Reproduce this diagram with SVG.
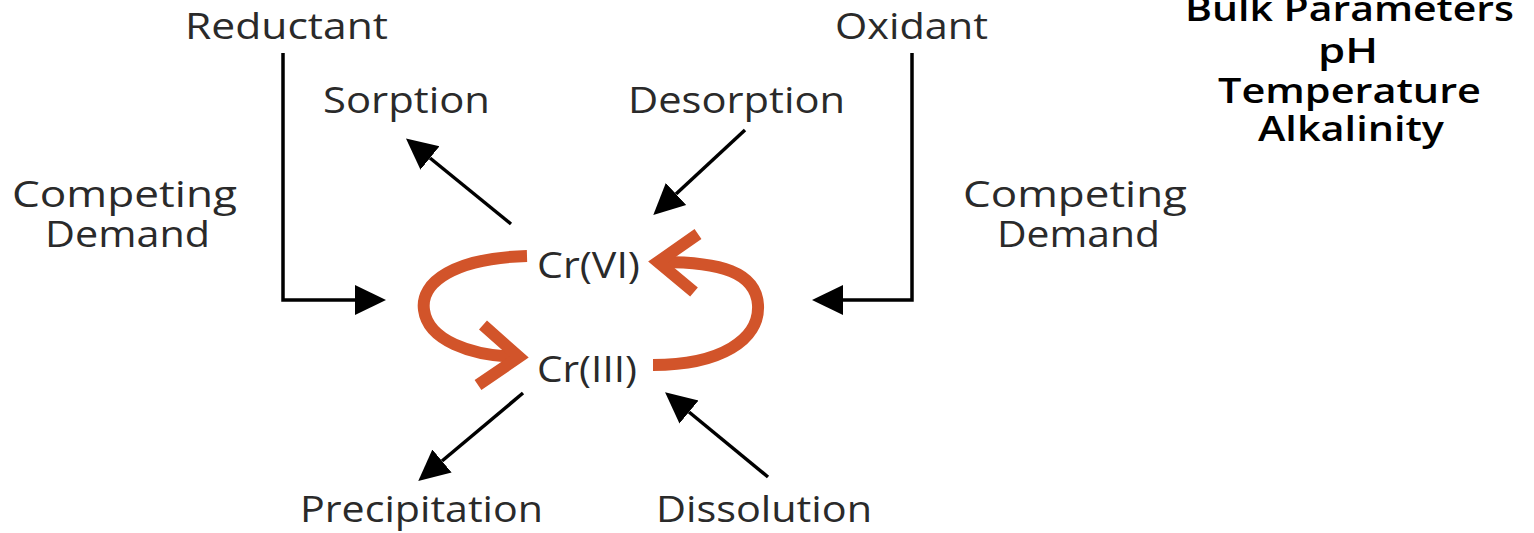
<svg xmlns="http://www.w3.org/2000/svg" width="1534" height="533" viewBox="0 0 1534 533">
<style>
.t{font-family:"Open Sans","Noto Sans",sans-serif;font-size:36px;fill:#2a2a2a;}
.b{font-family:"Open Sans","Noto Sans",sans-serif;font-size:34px;font-weight:600;fill:#000;}
.k{stroke:#000;stroke-width:3.5;fill:none;}
.o{stroke:#d2542a;stroke-width:12;fill:none;}
</style>
<defs>
<marker id="ah" markerUnits="userSpaceOnUse" markerWidth="32" markerHeight="32" viewBox="0 0 32 32" refX="0" refY="16" orient="auto">
<path d="M0,1 L31,16 L0,31 Z" fill="#000"/>
</marker>
</defs>
<rect width="1534" height="533" fill="#fff"/>
<g id="reductant"><text class="t" x="185" y="39" textLength="203" lengthAdjust="spacingAndGlyphs">Reductant</text></g>
<g id="oxidant"><text class="t" x="835" y="39" textLength="153" lengthAdjust="spacingAndGlyphs">Oxidant</text></g>
<g id="sorption"><text class="t" x="323" y="113" textLength="167" lengthAdjust="spacingAndGlyphs">Sorption</text></g>
<g id="desorption"><text class="t" x="628" y="113" textLength="217" lengthAdjust="spacingAndGlyphs">Desorption</text></g>
<g id="competing-left"><text class="t" x="12" y="207" textLength="225" lengthAdjust="spacingAndGlyphs">Competing</text><text class="t" x="45" y="247" textLength="165" lengthAdjust="spacingAndGlyphs">Demand</text></g>
<g id="competing-right"><text class="t" x="963" y="207" textLength="224" lengthAdjust="spacingAndGlyphs">Competing</text><text class="t" x="997" y="247" textLength="163" lengthAdjust="spacingAndGlyphs">Demand</text></g>
<g id="crvi"><text class="t" x="537" y="278" textLength="103" lengthAdjust="spacingAndGlyphs">Cr(VI)</text></g>
<g id="criii"><text class="t" x="537" y="382" textLength="100" lengthAdjust="spacingAndGlyphs">Cr(III)</text></g>
<g id="precipitation"><text class="t" x="300" y="522" textLength="243" lengthAdjust="spacingAndGlyphs">Precipitation</text></g>
<g id="dissolution"><text class="t" x="656" y="522" textLength="216" lengthAdjust="spacingAndGlyphs">Dissolution</text></g>
<g id="bulk"><text class="b" x="1185" y="21" textLength="329" lengthAdjust="spacingAndGlyphs">Bulk Parameters</text><text class="b" x="1318" y="63" textLength="60" lengthAdjust="spacingAndGlyphs">pH</text><text class="b" x="1218" y="103" textLength="263" lengthAdjust="spacingAndGlyphs">Temperature</text><text class="b" x="1258" y="141" textLength="186" lengthAdjust="spacingAndGlyphs">Alkalinity</text></g>
<g id="connectors">
<path class="k" d="M283,53 V300 H355" marker-end="url(#ah)"/>
<path class="k" d="M912,53 V300 H843" marker-end="url(#ah)"/>
<line class="k" x1="511" y1="224" x2="430" y2="158" marker-end="url(#ah)"/>
<line class="k" x1="745" y1="130" x2="676" y2="194" marker-end="url(#ah)"/>
<line class="k" x1="523" y1="393" x2="442" y2="461" marker-end="url(#ah)"/>
<line class="k" x1="768" y1="477" x2="689" y2="412" marker-end="url(#ah)"/>
<path class="o" d="M527,256 C455,258 420,282 424,310 C428,340 470,356 518,357"/>
<path class="o" d="M483,325 L519,357 L478,385"/>
<path class="o" d="M653,365 C720,365 760,340 758,305 C756,272 720,262 662,262"/>
<path class="o" d="M698,234 L658,262 L694,292"/>
</g>
</svg>
